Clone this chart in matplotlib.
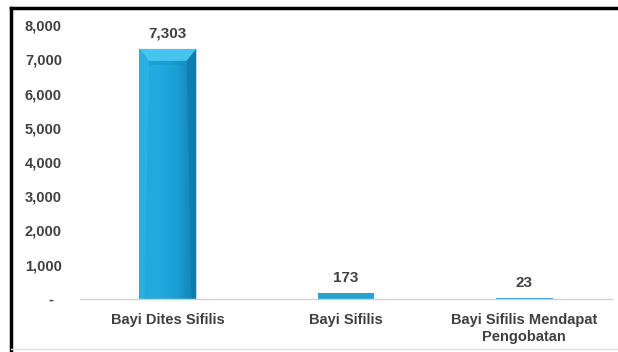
import numpy as np
import matplotlib.pyplot as plt
from matplotlib.colors import LinearSegmentedColormap
from matplotlib.patches import Polygon
from matplotlib.lines import Line2D

# data
categories = ["Bayi Dites Sifilis", "Bayi Sifilis", "Bayi Sifilis Mendapat\nPengobatan"]
values = [7303, 173, 23]
yticks = [0, 1000, 2000, 3000, 4000, 5000, 6000, 7000, 8000]

plt.rcParams['font.family'] = ['Liberation Sans', 'DejaVu Sans']
txt = '#404040'

fig = plt.figure(figsize=(6.18, 3.52), dpi=100)
ax = fig.add_axes([80/618, 53/352, 532/618, 274/352])

x = np.arange(len(categories))
width = 0.32
bars = ax.bar(x, values, width, color='#1fa5d8', edgecolor='none', zorder=2)

# shaded body and bevelled top for the tall bars
cmap = LinearSegmentedColormap.from_list('barg', ['#22a9dc', '#22aade', '#1b9fd4', '#137fb3'])
grad = np.linspace(0, 1, 64).reshape(1, -1)
for b in bars:
    x0, w, h = b.get_x(), b.get_width(), b.get_height()
    if h < 1000:
        continue
    im = ax.imshow(grad, cmap=cmap, extent=[x0, x0 + w, 0, h], aspect='auto', zorder=3)
    im.set_clip_path(b)
    bev = 0.055
    bh = 350
    ax.add_patch(Polygon([[x0, h], [x0 + w, h], [x0 + w - bev, h - bh], [x0 + bev, h - bh]],
                         closed=True, color='#47c3ee', zorder=4, lw=0))
    ax.add_patch(Polygon([[x0, h], [x0 + bev, h - bh], [x0 + bev * 0.5, 0], [x0, 0]],
                         closed=True, color='#2eb3e6', alpha=0.7, zorder=4, lw=0))
    ax.add_patch(Polygon([[x0 + w, h], [x0 + w, 0], [x0 + w - bev * 0.5, 0], [x0 + w - bev, h - bh]],
                         closed=True, color='#0e77aa', alpha=0.6, zorder=4, lw=0))
    ax.add_patch(Polygon([[x0 + bev, h - bh], [x0 + w - bev, h - bh], [x0 + w - bev, h - bh - 120],
                          [x0 + bev, h - bh - 120]], closed=True, color='#1590c6', alpha=0.35,
                         zorder=4, lw=0))

for xi, v in zip(x, values):
    ax.annotate(f"{v:,}", (xi, v), xytext=(0, 6), textcoords='offset points',
                ha='center', va='bottom', fontsize=11, fontweight='bold', color=txt)

ax.set_xlim(-0.494, len(categories) - 1 + 0.494)
ax.set_ylim(0, 8000)
ax.set_yticks(yticks)
ax.set_yticklabels(['-  '] + [f"{t:,}" for t in yticks[1:]])
ax.set_xticks(x)
ax.set_xticklabels(categories, linespacing=1.3)
ax.tick_params(axis='both', length=0, labelsize=10.5, labelcolor=txt)
ax.tick_params(axis='y', pad=13)
ax.tick_params(axis='x', pad=10)
for lbl in ax.get_xticklabels() + ax.get_yticklabels():
    lbl.set_fontweight('bold')
for s in ['top', 'right', 'left']:
    ax.spines[s].set_visible(False)
ax.spines['bottom'].set_color('#d0d0d0')
ax.spines['bottom'].set_linewidth(1)
ax.spines['bottom'].set_zorder(5)

# frame around the chart
fig.add_artist(Line2D([11/618, 11/618], [0, 1 - 8/352], color='black', lw=2.5,
                      transform=fig.transFigure))
fig.add_artist(Line2D([11/618, 1], [1 - 8/352, 1 - 8/352], color='black', lw=2.5,
                      transform=fig.transFigure))
fig.add_artist(Line2D([11/618, 1], [3/352, 3/352], color='#e0e0e0', lw=1,
                      transform=fig.transFigure))

fig.savefig('out.png', dpi=100)
